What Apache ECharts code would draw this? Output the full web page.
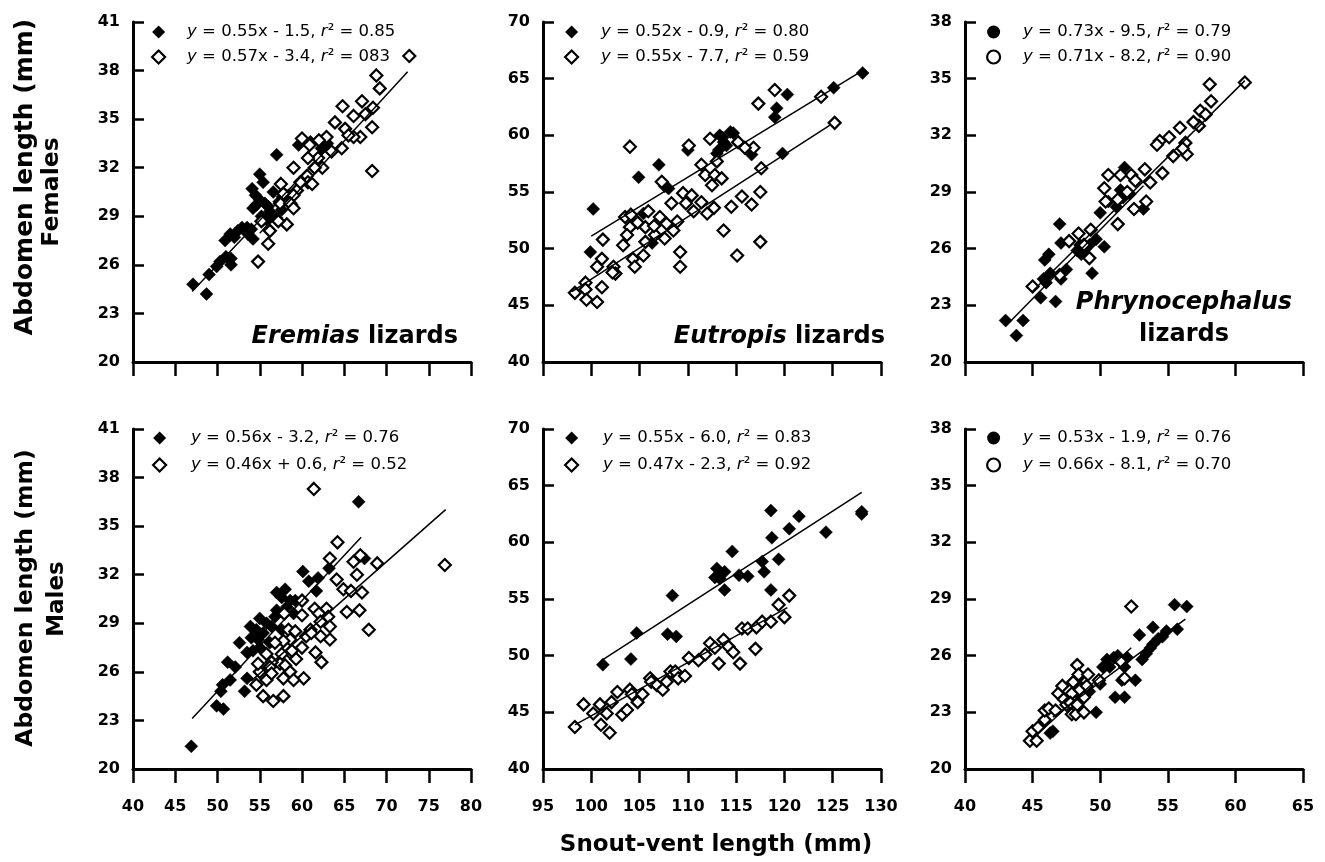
<!DOCTYPE html>
<html>
<head>
<meta charset="utf-8">
<title>Abdomen length vs snout-vent length</title>
<script src="https://cdn.jsdelivr.net/npm/echarts@6/dist/echarts.min.js"></script>
<style>
  html, body { margin: 0; padding: 0; background: #fff; }
  #chart { width: 1325px; height: 862px; }
</style>
</head>
<body>
<div id="chart"></div>
<script>
// ---- Axis ticks (min..max with step) ----
const eremiasXTicks = [40, 45, 50, 55, 60, 65, 70, 75, 80];
const eutropisXTicks = [95, 100, 105, 110, 115, 120, 125, 130];
const phrynoXTicks = [40, 45, 50, 55, 60, 65];
const eremiasYTicks = [20, 23, 26, 29, 32, 35, 38, 41];
const eutropisYTicks = [40, 45, 50, 55, 60, 65, 70];
const phrynoYTicks = [20, 23, 26, 29, 32, 35, 38];

// ---- Females: [snout-vent length, abdomen length] ----
const eremiasFemaleFilled = [
  [47.1,24.8],[48.7,24.2],[49.0,25.4],[49.9,25.9],[50.3,26.2],[51.0,26.5],[51.6,26.0],[51.6,26.4],
  [50.9,27.5],[51.5,27.9],[52.0,27.7],[52.4,28.1],[52.9,28.3],[53.5,28.3],[54.0,28.2],[54.2,27.6],
  [53.6,27.9],[54.1,30.7],[54.5,30.3],[55.0,31.6],[55.4,31.1],[54.2,29.5],[54.6,29.7],[55.0,30.0],
  [55.6,29.8],[56.2,29.3],[56.6,30.5],[57.0,32.8],[55.8,28.8],[56.2,28.9],[57.0,28.9],[57.7,30.2],
  [55.2,29.0],[56.0,29.6],[57.3,29.9],[58.4,30.3],[59.6,33.4],[61.0,33.6],[62.3,33.2],[63.0,33.5],
  [58.8,29.7],[57.6,29.4]
];
const eremiasFemaleOpen = [
  [72.7,38.9],[68.8,37.7],[69.2,36.9],[68.4,35.7],[67.1,36.1],[68.3,34.5],[68.3,31.8],[66.1,35.2],
  [65.1,34.4],[64.8,35.8],[63.9,34.8],[66.9,33.9],[66.1,33.9],[64.7,33.2],[62.9,33.9],[62.4,32.0],
  [60.0,33.8],[60.9,33.4],[62.0,33.7],[61.9,32.6],[60.7,32.6],[59.0,32.0],[61.5,32.0],[60.6,31.5],
  [60.7,31.1],[59.4,30.6],[59.8,31.1],[57.5,31.0],[59.0,30.3],[57.8,30.4],[57.4,29.8],[58.6,29.8],
  [59.0,29.5],[58.2,28.5],[57.2,28.7],[56.2,28.1],[55.2,28.7],[56.0,27.3],[54.8,26.2],[63.5,33.0],
  [65.5,34.0],[67.5,35.3],[61.2,31.0]
];
const eutropisFemaleFilled = [
  [128.1,65.5],[125.1,64.2],[120.3,63.6],[119.2,62.4],[119.0,61.6],[119.8,58.4],[116.6,58.3],[113.3,60.0],
  [114.4,60.3],[113.7,59.4],[113.2,58.7],[114.0,59.1],[113.0,58.4],[110.0,58.7],[107.0,57.4],[104.9,56.3],
  [108.0,55.3],[107.6,55.5],[105.4,53.1],[100.2,53.5],[99.9,49.7],[106.3,50.5],[114.7,60.2],[113.6,59.8]
];
const eutropisFemaleOpen = [
  [125.2,61.1],[123.8,63.4],[119.0,64.0],[117.3,62.8],[116.8,58.9],[115.9,58.9],[115.2,59.4],[117.6,57.1],
  [117.5,55.0],[116.6,53.9],[115.6,54.6],[114.5,53.7],[117.5,50.6],[115.1,49.4],[113.7,51.6],[112.7,53.6],
  [112.0,53.1],[112.5,55.6],[111.8,56.5],[112.8,56.5],[111.4,57.4],[112.3,59.7],[110.1,59.1],[107.3,55.9],
  [108.3,54.0],[109.5,54.9],[110.4,54.7],[111.4,54.1],[110.6,53.3],[104.0,59.0],[103.5,52.8],[104.1,53.0],
  [105.9,53.3],[107.1,52.8],[107.8,52.2],[108.9,52.4],[104.0,51.9],[105.6,51.9],[103.7,51.2],[106.6,51.2],
  [107.6,50.9],[105.6,50.6],[101.2,50.8],[103.3,50.3],[101.1,49.1],[100.6,48.4],[102.3,48.4],[102.5,47.8],
  [104.3,49.1],[105.4,49.4],[104.5,48.4],[109.2,49.7],[109.2,48.4],[99.4,47.0],[101.1,46.6],[99.4,46.4],
  [99.5,45.5],[100.6,45.3],[98.3,46.1],[113.0,57.7],[106.5,52.0],[104.8,52.3],[102.2,47.9],[108.5,51.6],
  [109.8,54.0],[113.5,56.2]
];
const phrynoFemaleFilled = [
  [43.0,22.2],[43.8,21.4],[44.3,22.2],[45.6,23.4],[46.7,23.2],[47.0,27.3],[47.1,26.3],[45.9,25.4],
  [46.2,25.7],[46.3,24.7],[45.8,24.4],[47.1,24.4],[47.5,24.9],[48.3,25.9],[48.5,26.2],[48.9,26.0],
  [49.4,24.7],[49.7,26.5],[50.3,26.1],[50.0,27.9],[51.5,29.1],[51.8,30.3],[51.7,28.7],[52.2,28.9],
  [53.2,28.1],[51.2,28.2],[48.6,25.7],[49.2,26.2],[46.0,24.2],[50.6,28.5]
];
const phrynoFemaleOpen = [
  [60.7,34.8],[58.1,34.7],[58.2,33.8],[57.4,33.3],[57.3,32.5],[56.9,32.7],[55.9,32.4],[55.1,31.9],
  [54.4,31.7],[54.2,31.5],[54.6,30.0],[55.4,30.9],[56.4,31.0],[56.3,31.6],[53.7,29.5],[53.3,30.2],
  [53.4,28.5],[52.5,28.1],[52.3,29.9],[52.6,29.6],[51.5,29.9],[51.3,28.6],[51.3,27.3],[50.6,29.9],
  [50.3,29.2],[50.4,28.5],[52.0,29.0],[49.3,27.0],[49.2,25.5],[48.4,26.8],[47.7,26.4],[47.0,24.6],
  [45.0,24.0],[48.8,26.2],[57.8,33.1],[56.1,31.3]
];

// ---- Males ----
const eremiasMaleFilled = [
  [46.9,21.4],[66.7,36.5],[67.4,33.0],[63.2,32.4],[60.1,32.2],[60.8,31.6],[61.9,31.8],[61.7,31.0],
  [57.0,30.9],[57.6,30.6],[58.2,30.0],[58.6,30.4],[59.2,30.4],[57.0,29.8],[59.0,29.6],[55.0,29.3],
  [55.8,29.0],[53.9,28.8],[54.6,28.6],[55.4,28.4],[56.4,28.8],[52.6,27.8],[54.8,28.0],[55.0,27.5],
  [53.5,27.2],[54.2,27.3],[51.2,26.6],[52.1,26.3],[53.5,25.6],[51.5,25.5],[50.6,25.2],[50.4,24.8],
  [53.2,24.8],[49.9,23.9],[50.7,23.7],[56.8,29.4],[57.6,28.6],[56.2,27.8],[58.0,31.1],[54.0,28.1]
];
const eremiasMaleOpen = [
  [61.4,37.3],[76.9,32.6],[64.2,34.0],[63.3,33.0],[66.9,33.2],[66.1,32.8],[68.9,32.7],[66.5,32.0],
  [64.1,31.7],[64.9,31.1],[65.8,31.0],[67.1,30.9],[65.3,29.7],[66.8,29.8],[67.9,28.6],[61.5,29.9],
  [62.9,29.9],[62.0,29.6],[62.2,29.1],[63.1,29.4],[63.3,28.8],[63.3,28.0],[62.2,28.2],[61.0,28.6],
  [60.0,29.5],[60.0,30.4],[61.6,27.2],[62.3,26.6],[60.2,25.6],[58.4,28.6],[57.9,29.6],[58.6,28.0],
  [58.6,27.2],[57.8,27.9],[56.8,27.8],[55.8,27.1],[57.6,27.1],[57.4,26.5],[56.4,26.6],[58.0,26.4],
  [56.2,26.3],[55.8,25.5],[54.6,25.2],[57.8,25.6],[58.6,26.0],[59.0,25.5],[55.4,24.5],[56.6,24.2],
  [57.8,24.5],[59.3,26.8],[60.5,28.2],[60.0,27.5],[58.8,27.3],[55.0,26.0],[56.4,25.9],[59.2,28.5],
  [61.1,28.4],[54.8,26.5]
];
const eutropisMaleFilled = [
  [101.2,49.2],[104.1,49.7],[104.7,52.0],[107.9,51.9],[108.8,51.7],[108.4,55.3],[113.0,57.7],[112.8,56.9],
  [113.3,56.8],[113.8,57.4],[113.8,55.8],[114.6,59.2],[115.3,57.1],[116.2,57.0],[117.7,58.3],[117.9,57.4],
  [118.6,55.8],[118.6,62.8],[118.7,60.4],[119.4,58.5],[120.5,61.2],[121.5,62.3],[124.3,60.9],[128.0,62.5],
  [128.0,62.7]
];
const eutropisMaleOpen = [
  [98.3,43.7],[99.2,45.7],[100.2,44.9],[100.9,45.7],[101.0,43.9],[101.6,44.9],[101.9,43.2],[102.1,45.9],
  [102.7,46.8],[103.2,44.8],[103.7,45.2],[104.0,47.0],[104.2,46.6],[104.8,45.9],[105.3,46.6],[106.1,48.0],
  [106.2,47.7],[106.8,47.4],[107.4,47.0],[107.8,47.7],[108.2,48.6],[108.7,48.6],[109.0,48.0],[109.7,48.2],
  [110.1,49.8],[111.1,49.6],[111.8,50.1],[112.3,51.1],[112.8,50.7],[113.2,49.3],[113.7,51.4],[114.2,50.8],
  [114.7,50.3],[115.4,49.3],[115.6,52.4],[116.2,52.4],[117.0,50.6],[117.1,52.5],[117.7,53.0],[118.6,53.0],
  [119.4,54.5],[120.0,53.4],[120.5,55.3]
];
const phrynoMaleFilled = [
  [55.5,28.7],[56.4,28.6],[55.7,27.4],[54.9,27.3],[53.9,27.5],[52.9,27.1],[54.3,26.9],[53.9,26.6],
  [53.7,26.4],[53.4,26.1],[53.1,25.8],[52.0,25.9],[51.8,25.4],[52.6,24.7],[51.6,24.7],[51.1,23.8],
  [51.8,23.8],[51.0,25.9],[50.5,25.8],[50.2,25.4],[50.7,25.4],[50.0,24.5],[49.2,24.1],[49.7,23.0],
  [48.6,23.8],[48.5,24.4],[48.5,24.9],[46.5,22.0],[46.3,21.9],[51.3,26.0],[54.6,27.0]
];
const phrynoMaleOpen = [
  [52.3,28.6],[44.8,21.5],[45.3,21.5],[45.0,22.0],[45.4,22.2],[45.9,22.6],[45.9,23.1],[46.2,23.2],
  [46.7,23.1],[46.9,24.0],[47.2,24.4],[47.3,23.7],[47.5,23.4],[47.9,22.9],[48.2,22.9],[47.9,24.0],
  [47.8,23.5],[48.0,24.6],[48.3,25.5],[48.4,25.0],[48.5,24.2],[48.3,23.4],[48.8,23.0],[49.1,25.0],
  [49.0,24.4],[48.8,23.8],[49.9,24.7],[51.5,25.7],[51.8,24.8]
];

// ---- Regression fits: [slope, intercept, xStart, xEnd] (filled, open) ----
const eremiasFemaleFits = [[0.55, -1.5, 47, 63], [0.57, -3.4, 55, 72.5]];
const eutropisFemaleFits = [[0.52, -0.9, 100, 128], [0.55, -7.7, 98, 124.8]];
const phrynoFemaleFits = [[0.73, -9.5, 43, 53.2], [0.71, -8.2, 45, 60.7]];
const eremiasMaleFits = [[0.56, -3.2, 47, 67], [0.46, 0.6, 54, 77]];
const eutropisMaleFits = [[0.55, -6.0, 101, 128], [0.47, -2.3, 98.3, 120.3]];
const phrynoMaleFits = [[0.53, -1.9, 46.5, 56.3], [0.66, -8.1, 45, 52.3]];

// ---- Regression labels ----
const eremiasFemaleLabels = ['{i|y} = 0.55x - 1.5, {i|r}\u00b2 = 0.85', '{i|y} = 0.57x - 3.4, {i|r}\u00b2 = 083'];
const eutropisFemaleLabels = ['{i|y} = 0.52x - 0.9, {i|r}\u00b2 = 0.80', '{i|y} = 0.55x - 7.7, {i|r}\u00b2 = 0.59'];
const phrynoFemaleLabels = ['{i|y} = 0.73x - 9.5, {i|r}\u00b2 = 0.79', '{i|y} = 0.71x - 8.2, {i|r}\u00b2 = 0.90'];
const eremiasMaleLabels = ['{i|y} = 0.56x - 3.2, {i|r}\u00b2 = 0.76', '{i|y} = 0.46x + 0.6, {i|r}\u00b2 = 0.52'];
const eutropisMaleLabels = ['{i|y} = 0.55x - 6.0, {i|r}\u00b2 = 0.83', '{i|y} = 0.47x - 2.3, {i|r}\u00b2 = 0.92'];
const phrynoMaleLabels = ['{i|y} = 0.53x - 1.9, {i|r}\u00b2 = 0.76', '{i|y} = 0.66x - 8.1, {i|r}\u00b2 = 0.70'];

// ---- Layout ----
const FONT = 'DejaVu Sans';
const colLeft = [133, 543, 965];
const rowTop = [22, 429];
const PW = 338, PH = 340;

const panels = [
  { row: 0, col: 0, xt: eremiasXTicks, yt: eremiasYTicks, filled: eremiasFemaleFilled, open: eremiasFemaleOpen, fits: eremiasFemaleFits, labels: eremiasFemaleLabels, icon: 'diamond', key: 'erF' },
  { row: 0, col: 1, xt: eutropisXTicks, yt: eutropisYTicks, filled: eutropisFemaleFilled, open: eutropisFemaleOpen, fits: eutropisFemaleFits, labels: eutropisFemaleLabels, icon: 'diamond', key: 'euF' },
  { row: 0, col: 2, xt: phrynoXTicks, yt: phrynoYTicks, filled: phrynoFemaleFilled, open: phrynoFemaleOpen, fits: phrynoFemaleFits, labels: phrynoFemaleLabels, icon: 'circle', key: 'phF' },
  { row: 1, col: 0, xt: eremiasXTicks, yt: eremiasYTicks, filled: eremiasMaleFilled, open: eremiasMaleOpen, fits: eremiasMaleFits, labels: eremiasMaleLabels, icon: 'diamond', key: 'erM' },
  { row: 1, col: 1, xt: eutropisXTicks, yt: eutropisYTicks, filled: eutropisMaleFilled, open: eutropisMaleOpen, fits: eutropisMaleFits, labels: eutropisMaleLabels, icon: 'diamond', key: 'euM' },
  { row: 1, col: 2, xt: phrynoXTicks, yt: phrynoYTicks, filled: phrynoMaleFilled, open: phrynoMaleOpen, fits: phrynoMaleFits, labels: phrynoMaleLabels, icon: 'circle', key: 'phM' }
];

const legendLeft = [[151, 564, 986], [152, 564, 986]];
const legendTextPad = [[18, 19, 19], [21, 21, 19]];
const legendGap = [5, 7];

const grid = [], xAxis = [], yAxis = [], series = [], legend = [];
const labelByName = {};

panels.forEach((p, i) => {
  grid.push({ left: colLeft[p.col], top: rowTop[p.row], width: PW, height: PH, outerBoundsMode: 'none' });
  xAxis.push({
    type: 'value', gridIndex: i, position: 'bottom',
    min: p.xt[0], max: p.xt[p.xt.length - 1], interval: p.xt[1] - p.xt[0],
    axisLine: { show: true, onZero: false, lineStyle: { color: '#000', width: 3 } },
    axisTick: { show: true, inside: false, length: 14, lineStyle: { color: '#000', width: 2.5 } },
    axisLabel: {
      show: p.row === 1, margin: 30, color: '#000', fontFamily: FONT, fontWeight: 'bold', fontSize: 16,
      verticalAlign: 'top', showMinLabel: true, showMaxLabel: true, hideOverlap: false
    },
    splitLine: { show: false }
  });
  yAxis.push({
    type: 'value', gridIndex: i, position: 'left',
    min: p.yt[0], max: p.yt[p.yt.length - 1], interval: p.yt[1] - p.yt[0],
    axisLine: { show: true, onZero: false, lineStyle: { color: '#000', width: 3 } },
    axisTick: { show: true, inside: true, length: 11, lineStyle: { color: '#000', width: 2.5 } },
    axisLabel: { margin: 13, color: '#000', fontFamily: FONT, fontWeight: 'bold', fontSize: 16 },
    splitLine: { show: false }
  });

  const nFilled = p.key + '_filled', nOpen = p.key + '_open';
  labelByName[nFilled] = p.labels[0];
  labelByName[nOpen] = p.labels[1];

  series.push({
    name: nFilled, type: 'scatter', xAxisIndex: i, yAxisIndex: i,
    symbol: 'diamond', symbolSize: 13, data: p.filled, z: 2,
    itemStyle: { color: '#000', borderColor: '#000', borderWidth: 0.5, opacity: 1 }
  });
  series.push({
    name: nOpen, type: 'scatter', xAxisIndex: i, yAxisIndex: i,
    symbol: 'diamond', symbolSize: 12, data: p.open, z: 3,
    itemStyle: { color: '#fff', borderColor: '#000', borderWidth: 2.2, opacity: 1 }
  });
  p.fits.forEach(f => {
    const [a, b, x0, x1] = f;
    series.push({
      type: 'line', xAxisIndex: i, yAxisIndex: i, silent: true, z: 4,
      symbol: 'none', animation: false,
      data: [[x0, a * x0 + b], [x1, a * x1 + b]],
      lineStyle: { color: '#000', width: 1.5 }
    });
  });

  legend.push({
    orient: 'vertical',
    left: legendLeft[p.row][p.col],
    top: rowTop[p.row] + (p.row === 0 ? 0 : -1),
    padding: 0,
    itemGap: legendGap[p.row],
    itemWidth: 13, itemHeight: 13,
    selectedMode: false,
    data: [
      { name: nFilled, icon: p.icon, itemStyle: { color: '#000', borderColor: '#000', borderWidth: 0 } },
      { name: nOpen, icon: p.icon, itemStyle: { color: '#fff', borderColor: '#000', borderWidth: 2.2 } }
    ],
    formatter: name => labelByName[name],
    textStyle: {
      color: '#000', fontFamily: FONT, fontSize: 16.5, lineHeight: 20,
      padding: [0, 0, 0, legendTextPad[p.row][p.col] - 1],
      rich: { i: { fontStyle: 'italic', fontFamily: FONT, fontSize: 16.5, lineHeight: 20, color: '#000' } }
    }
  });
});

// Text blocks: axis titles and genus names
const boldRich = (size) => ({
  it: { fontFamily: FONT, fontWeight: 'bold', fontStyle: 'italic', fontSize: size, fill: '#000' },
  n: { fontFamily: FONT, fontWeight: 'bold', fontSize: size, fill: '#000' }
});
function textEl(x, y, text, size, align, rotation) {
  return {
    type: 'text', x: x, y: y, rotation: rotation || 0, silent: true,
    style: {
      text: text, fill: '#000', fontFamily: FONT, fontWeight: 'bold', fontSize: size,
      align: align || 'center', verticalAlign: 'middle', rich: boldRich(size)
    }
  };
}
const graphic = [
  textEl(25, 177, '{n|Abdomen length (mm)}', 25, 'center', Math.PI / 2),
  textEl(52, 192, '{n|Females}', 23.5, 'center', Math.PI / 2),
  textEl(26, 598, '{n|Abdomen length (mm)}', 23.5, 'center', Math.PI / 2),
  textEl(57, 599, '{n|Males}', 23, 'center', Math.PI / 2),
  textEl(716, 845, '{n|Snout-vent length (mm)}', 23, 'center'),
  textEl(458, 337, '{it|Eremias}{n| lizards}', 24, 'right'),
  textEl(885, 337, '{it|Eutropis}{n| lizards}', 24, 'right'),
  textEl(1184, 303, '{it|Phrynocephalus}', 24, 'center'),
  textEl(1184, 335, '{n|lizards}', 24, 'center')
];

const chart = echarts.init(document.getElementById('chart'), null, { renderer: 'canvas' });
chart.setOption({
  animation: false,
  backgroundColor: '#fff',
  grid: grid, xAxis: xAxis, yAxis: yAxis,
  legend: legend,
  series: series,
  graphic: graphic
});
</script>
</body>
</html>
